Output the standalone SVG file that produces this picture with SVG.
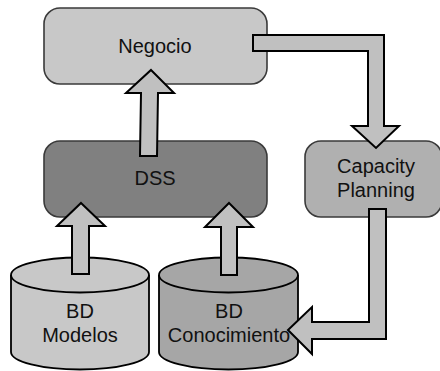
<svg xmlns="http://www.w3.org/2000/svg" width="440" height="371" viewBox="0 0 440 371">
  <style>
    .box { stroke: #3a3a3a; stroke-width: 1.6; }
    .cyl { stroke: #000; stroke-width: 1.8; }
    .arrow { fill: #c0c0c0; stroke: #000; stroke-width: 2; stroke-linejoin: miter; }
    text { font-family: "Liberation Sans", Arial, sans-serif; font-size: 20px; fill: #111; text-anchor: middle; }
  </style>
  <rect width="440" height="371" fill="#fff"/>

  <g id="negocio">
    <rect class="box" x="44" y="8" width="223" height="76" rx="16" fill="#c8c8c8"/>
    <text x="155" y="53">Negocio</text>
  </g>

  <g id="dss">
    <rect class="box" x="44" y="141" width="223" height="76" rx="16" fill="#808080"/>
    <text x="155" y="185">DSS</text>
  </g>

  <g id="capacity-planning">
    <rect class="box" x="305" y="141" width="137" height="76" rx="16" fill="#b0b0b0"/>
    <text x="376" y="173">Capacity</text>
    <text x="376" y="197">Planning</text>
  </g>

  <g id="bd-modelos">
    <path class="cyl" d="M11,275 V352 A69,17.5 0 0 0 149,352 V275 A69,17.5 0 0 0 11,275 Z" fill="#c8c8c8"/>
    <path class="cyl" d="M11,275 A69,17.5 0 0 0 149,275" fill="none"/>
    <text x="80" y="318">BD</text>
    <text x="80" y="342">Modelos</text>
  </g>

  <g id="bd-conocimiento">
    <path class="cyl" d="M159,275 V352 A69.5,17.5 0 0 0 298,352 V275 A69.5,17.5 0 0 0 159,275 Z" fill="#a6a6a6"/>
    <path class="cyl" d="M159,275 A69.5,17.5 0 0 0 298,275" fill="none"/>
    <text x="229" y="318">BD</text>
    <text x="229" y="342">Conocimiento</text>
  </g>

  <g id="connectors">
    <!-- DSS to Negocio -->
    <polygon class="arrow" points="151,70 174,93 158,93 157,156 140,156 141,93 126,93"/>
    <!-- Negocio to Capacity Planning -->
    <polygon class="arrow" points="253,35 384,35 384,126 399,126 376,148 352,126 368,126 368,51 253,51"/>
    <!-- BD Modelos to DSS -->
    <polygon class="arrow" points="81,203 105,226 89,226 89,274 72,274 72,226 57,226"/>
    <!-- BD Conocimiento to DSS -->
    <polygon class="arrow" points="229,203 253,227 237,227 237,275 221,275 221,227 205,227"/>
    <!-- Capacity Planning to BD Conocimiento -->
    <polygon class="arrow" points="369,209 386,209 386,339 312,339 312,354 288,330 312,307 312,322 369,322"/>
  </g>
</svg>
